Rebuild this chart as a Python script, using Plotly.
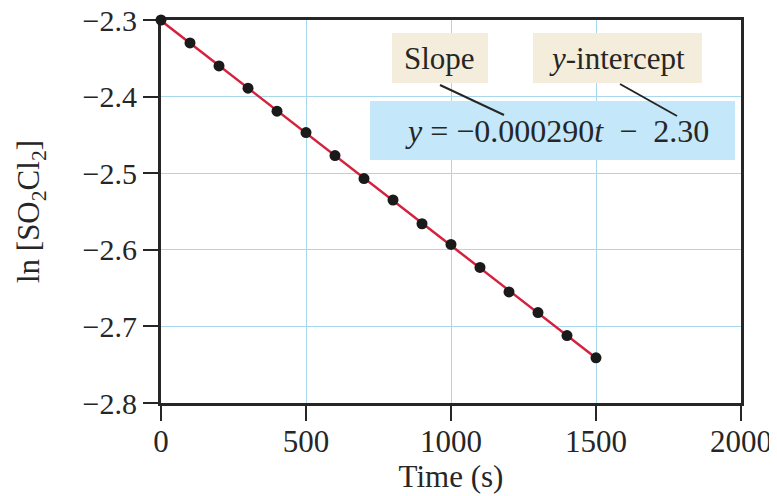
import numpy as np
import plotly.graph_objects as go

time_s = [0, 100, 200, 300, 400, 500, 600, 700, 800, 900, 1000, 1100, 1200, 1300, 1400, 1500]
ln_conc = [-2.300, -2.330, -2.360, -2.389, -2.419, -2.447, -2.477, -2.507,
           -2.535, -2.566, -2.593, -2.623, -2.655, -2.682, -2.712, -2.741]
x_ticks = [0, 500, 1000, 1500, 2000]
y_ticks = [-2.3, -2.4, -2.5, -2.6, -2.7, -2.8]

slope, intercept = np.polyfit(time_s, ln_conc, 1)
fit_x = [time_s[0], time_s[-1]]
fit_y = [slope * t + intercept for t in fit_x]

FONT = "Liberation Serif"
INK = "#262626"

fig = go.Figure()
fig.add_trace(go.Scatter(x=fit_x, y=fit_y, mode="lines",
                         line=dict(color="#d4213d", width=2.5),
                         hoverinfo="skip", cliponaxis=False))
fig.add_trace(go.Scatter(x=time_s, y=ln_conc, mode="markers",
                         marker=dict(color="#1a1a1a", size=11),
                         cliponaxis=False))

def px2x(p):
    return (p - 161) / 580 * 2000

def py2y(p):
    return -2.3 - (p - 20) / 383 * 0.5

shapes = [
    dict(type="rect", x0=px2x(392), x1=px2x(488), y0=py2y(33), y1=py2y(83),
         fillcolor="#f4eddb", line=dict(width=0), layer="above"),
    dict(type="rect", x0=px2x(533), x1=px2x(702), y0=py2y(33), y1=py2y(83),
         fillcolor="#f4eddb", line=dict(width=0), layer="above"),
    dict(type="rect", x0=px2x(370), x1=px2x(735), y0=py2y(101), y1=py2y(160),
         fillcolor="#c4e8f9", line=dict(width=0), layer="above"),
    dict(type="line", x0=px2x(440), x1=px2x(504), y0=py2y(85), y1=py2y(115),
         line=dict(color=INK, width=2), layer="above"),
    dict(type="line", x0=px2x(620), x1=px2x(677), y0=py2y(84), y1=py2y(116),
         line=dict(color=INK, width=2), layer="above"),
]

annotations = [
    dict(x=px2x(439), y=py2y(58), text="Slope", showarrow=False,
         font=dict(family=FONT, size=31, color=INK)),
    dict(x=px2x(617), y=py2y(58), text="<i>y</i>-intercept", showarrow=False,
         font=dict(family=FONT, size=31, color=INK)),
    dict(x=px2x(557), y=py2y(131), text="<i>y</i> = −0.000290<i>t</i>  −  2.30",
         showarrow=False, font=dict(family=FONT, size=32, color=INK)),
]

# page body has an 8px default margin, so the figure is offset by 8px
fig.update_layout(
    width=769, height=488,
    margin=dict(l=153, r=36, t=12, b=93),
    paper_bgcolor="white", plot_bgcolor="white",
    showlegend=False,
    font=dict(family=FONT, size=30, color=INK),
    shapes=shapes, annotations=annotations,
    xaxis=dict(range=[0, 2000], tickvals=x_ticks, ticks="outside", ticklen=15,
               tickwidth=2, tickcolor=INK, showline=True, linewidth=3,
               linecolor=INK, mirror=True, showgrid=True, gridcolor="#a8d8ec",
               gridwidth=1, zeroline=False, layer="below traces",
               automargin=False, ticklabelstandoff=-6, ticklabeloverflow="allow",
               title=dict(text="Time (s)", standoff=8,
                          font=dict(family=FONT, size=31, color=INK)),
               tickfont=dict(family=FONT, size=31, color=INK)),
    yaxis=dict(range=[-2.8, -2.3], tickvals=y_ticks, tickformat=".1f",
               ticks="outside", ticklen=15, tickwidth=2, tickcolor=INK,
               showline=True, linewidth=3, linecolor=INK, mirror=True,
               showgrid=True, gridcolor="#a8d8ec", gridwidth=1, zeroline=False,
               layer="below traces", automargin=False, ticklabeloverflow="allow",
               title=dict(text="ln [SO<sub>2</sub>Cl<sub>2</sub>]", standoff=34,
                          font=dict(family=FONT, size=31, color=INK)),
               tickfont=dict(family=FONT, size=30, color=INK)),
)

fig.write_html("out.html")
